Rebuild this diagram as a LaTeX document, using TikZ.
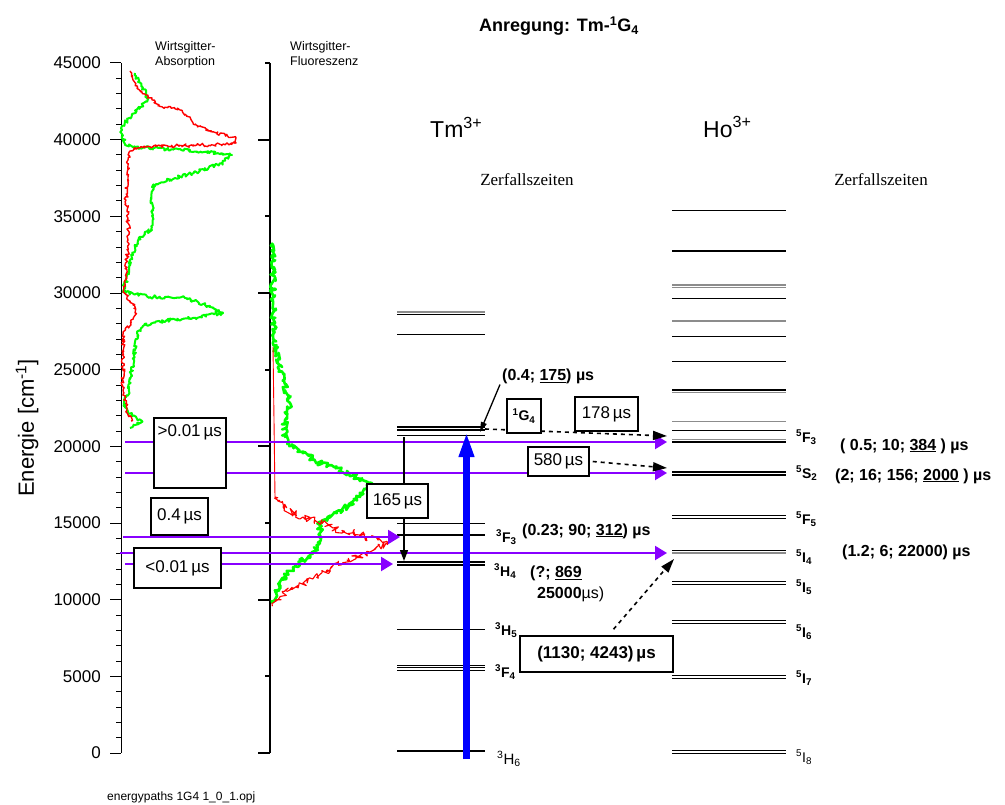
\documentclass[tikz,border=0pt]{standalone}
\usepackage{fontspec}
\setmainfont{Liberation Sans}
\newfontfamily\seriffont{Liberation Serif}
\usetikzlibrary{arrows.meta,decorations.pathmorphing}

\definecolor{excitecol}{RGB}{136,0,255}
\definecolor{pumpcol}{RGB}{0,0,255}
\definecolor{specgreen}{RGB}{0,255,0}
\definecolor{specred}{RGB}{255,0,0}
\newcommand{\term}[3]{\textsuperscript{#1}#2\textsubscript{#3}}
\newcommand{\ulnum}[1]{\underline{#1}}
\newcommand{\fsz}[1]{\fontsize{#1}{#1}\selectfont}

\begin{document}
\begin{tikzpicture}[
        x=1pt, y=-1pt,
        font=\fsz{16},
        axisline/.style={line width=1pt},
        level/.style={line width=1.3pt},
        thinlevel/.style={line width=0.8pt},
        greylevel/.style={line width=1.4pt, black!45},
        excite/.style={excitecol, line width=2.2pt, -{Triangle[length=12pt,width=14pt]}},
        pump/.style={pumpcol, line width=7pt, -{Triangle[length=25pt,width=14pt]}},
        decay/.style={line width=1.3pt, -{Triangle[length=11pt,width=8pt]}},
        transfer/.style={line width=1.6pt, dash pattern=on 4pt off 4pt, -{Triangle[length=14pt,width=9pt]}},
        timebox/.style={draw, line width=1.5pt, fill=white, inner sep=0pt, font=\fsz{17}},
        lifetime/.style={anchor=base west, inner sep=0pt, font=\bfseries\fsz{16}},
        termlabel/.style={anchor=base west, inner sep=0pt, font=\bfseries\fsz{14}},
        spectrum/.style={line join=round, decorate, decoration={random steps, segment length=1.5pt, amplitude=1.8pt}}
    ]
    \useasboundingbox (0,0) rectangle (1005,805);
    \fill[white] (0,0) rectangle (1005,805);
    \pgfmathsetseed{42}

    \node[font=\bfseries\fsz{18}] (title) at (559,26) {Anregung: Tm-\term{1}{G}{4}};
    \node[rotate=90, font=\fsz{22}] (ylabel) at (27,428) {Energie [cm\textsuperscript{-1}]};
    \node[anchor=north west, inner sep=0pt, align=left, font=\fontsize{12.5}{15}\selectfont] (abslabel) at (155,41) {Wirtsgitter-\\Absorption};
    \node[anchor=north west, inner sep=0pt, align=left, font=\fontsize{12.5}{15}\selectfont] (fluolabel) at (290,41) {Wirtsgitter-\\Fluoreszenz};
    \node[anchor=west, inner sep=0pt, font=\fsz{23}] (tmion) at (430,127) {Tm\textsuperscript{3+}};
    \node[anchor=west, inner sep=0pt, font=\fsz{23}] (hoion) at (703,127) {Ho\textsuperscript{3+}};
    \node[font=\seriffont\fsz{17}] (tmzeit) at (527,180) {Zerfallszeiten};
    \node[font=\seriffont\fsz{17}] (hozeit) at (881,180) {Zerfallszeiten};
    \node[anchor=west, inner sep=0pt, font=\fsz{12}] (filename) at (107,797) {energypaths 1G4 1\_0\_1.opj};

    \draw[axisline] (121,63) -- (121,753);
    \foreach \k in {0,...,45}
        \draw[axisline] (116,{753-\k*15.3333}) -- (121,{753-\k*15.3333});
    \foreach \k/\lab in {0/0,5/5000,10/10000,15/15000,20/20000,25/25000,30/30000,35/35000,40/40000,45/45000} {
        \draw[axisline] (110,{753-\k*15.3333}) -- (121,{753-\k*15.3333});
        \node[anchor=east, inner sep=0pt, font=\fsz{17}] (ticklab\k) at (101,{753-\k*15.3333}) {\lab};
    }
    \draw[line width=2pt] (270,63) -- (270,753);
    \foreach \k in {0,10,...,40}
        \draw[line width=2pt] (258,{753-\k*15.3333}) -- (270,{753-\k*15.3333});
    \foreach \k in {5,15,...,45}
        \draw[line width=2pt] (265,{753-\k*15.3333}) -- (270,{753-\k*15.3333});

    \draw[specgreen, line width=2pt, spectrum] (135,73) -- (138,82) -- (143,88) -- (146,94) -- (148,99) -- (122,126) -- (122,136) -- (125,144) -- (135,147) -- (190,150) -- (232,155) -- (222,163) -- (200,171) -- (175,178) -- (156,184) -- (152,187) -- (152,230) -- (145,232) -- (138,240) -- (133,255) -- (129,268) -- (126,282) -- (123,292) -- (150,297) -- (185,298) -- (205,305) -- (223,313) -- (200,317) -- (170,320) -- (143,326) -- (137,333) -- (129,390) -- (124,403) -- (128,413) -- (142,421) -- (130,428);
    \draw[specred, line width=1.4pt, spectrum] (130,71) -- (133,80) -- (137,88) -- (146,95) -- (152,100) -- (158,106) -- (180,110) -- (198,126) -- (213,132) -- (234,137) -- (236,143) -- (213,145) -- (160,146) -- (140,148) -- (130,151) -- (128,160) -- (126,200) -- (129,233) -- (125,283) -- (123,292) -- (127,297) -- (133,305) -- (135,313) -- (131,325) -- (123,332) -- (123,390) -- (127,410) -- (131,421);
    \draw[specgreen, line width=2.6pt, spectrum, decoration={amplitude=3pt}] (273,243) -- (273,300) -- (274,340) -- (278,363) -- (285,387) -- (290,403) -- (285,420) -- (285,437) -- (293,447) -- (320,463) -- (347,473) -- (372,483) -- (360,497) -- (337,513) -- (320,523) -- (320,543) -- (313,553) -- (293,567) -- (280,583) -- (272,600);
    \draw[specred, line width=0.9pt] (273,347) -- (274,420) -- (275,497);
    \draw[specred, line width=1.1pt, spectrum, decoration={amplitude=4pt}] (275,497) -- (283,507) -- (303,517) -- (333,528) -- (360,535) -- (387,543) -- (370,552) -- (347,560) -- (327,570) -- (303,583) -- (280,597) -- (272,603);

    \foreach \y in {334,435,523,629}
        \draw[thinlevel] (397,\y) -- (485,\y);
    \foreach \y in {665,667.5,670}
        \draw[line width=0.6pt] (397,\y) -- (485,\y);
    \draw[greylevel] (397,312) -- (485,312);
    \foreach \y in {314.5,427,430,535,562,565,751}
        \draw[level] (397,\y) -- (485,\y);
    \foreach \y in {285,287.5,321,392.5,421.5,439.5,553}
        \draw[greylevel] (672,\y) -- (786,\y);
    \foreach \y in {210.5,298.5,336.5,361,430.5,550,620.5,623.5,675,678}
        \draw[thinlevel] (672,\y) -- (786,\y);
    \foreach \y in {251,390,442,472,475,515.5,518.5,581.5,584.5,750.5,753.5}
        \draw[level] (672,\y) -- (786,\y);

    \foreach \n/\y/\xs/\xe in {a/442/125/667, b/473/125/667, c/537/123/400, d/553/120/667, e/564/125/393} {
        \coordinate (exs\n) at (\xs,\y);
        \coordinate (exe\n) at (\xe,\y);
        \draw[excite] (exs\n) -- (exe\n);
    }

    \coordinate (tmground) at (466.5,759);
    \coordinate (tmGfour) at (466.5,432);
    \draw[pump] (tmground) -- (tmGfour);
    \coordinate (tmGfoot) at (404,437);
    \coordinate (tmHfour) at (404,561);
    \draw[decay] (tmGfoot) -- (tmHfour);
    \coordinate (tmGend) at (485,429);
    \coordinate (hoFthree) at (667,436);
    \draw[transfer] (tmGend) -- (hoFthree);

    \node[timebox, anchor=north west, minimum width=72pt, text height=13pt, text depth=45pt, inner ysep=6pt] (tgtzero) at (153,417) {>0.01\,µs};
    \node[timebox, minimum width=57pt, minimum height=37pt] (tfour) at (179.5,516.5) {0.4\,µs};
    \node[timebox, minimum width=87pt, minimum height=40pt] (tltzero) at (177.5,568) {<0.01\,µs};
    \node[timebox, minimum width=61pt, minimum height=34pt] (t165) at (397.5,501) {165\,µs};
    \node[timebox, minimum width=34pt, minimum height=34pt, font=\bfseries\fsz{14}] (gfourbox) at (524,416) {\term{1}{G}{4}};
    \node[timebox, minimum width=63pt, minimum height=34pt] (t178) at (606.5,414) {178\,µs};
    \node[timebox, minimum width=61pt, minimum height=29pt] (t580) at (558.5,461.5) {580\,µs};
    \node[timebox, minimum width=153pt, minimum height=36pt, font=\bfseries\fsz{17}] (t1130) at (596.5,654) {(1130; 4243)\,µs};

    \coordinate (hoStwo) at (667,468);
    \draw[transfer] ([xshift=3pt]t580.east) -- (hoStwo);
    \coordinate (hoIfour) at (674,559);
    \draw[transfer] ([xshift=17pt,yshift=6pt]t1130.north) -- (hoIfour);

    \node[termlabel] (tmFthree) at (496,542) {\term{3}{F}{3}};
    \node[termlabel] (tmHfourlab) at (494,576) {\term{3}{H}{4}};
    \node[termlabel] (tmHfive) at (495,635) {\term{3}{H}{5}};
    \node[termlabel] (tmFfour) at (495,677) {\term{3}{F}{4}};
    \node[termlabel, font=\fsz{15}] (tmHsix) at (497,764) {\term{3}{H}{6}};
    \node[termlabel] (hoFthreelab) at (796,442) {\term{5}{F}{3}};
    \node[termlabel] (hoStwolab) at (796,478) {\term{5}{S}{2}};
    \node[termlabel] (hoFfive) at (796,524) {\term{5}{F}{5}};
    \node[termlabel] (hoIfourlab) at (796,562) {\term{5}{I}{4}};
    \node[termlabel] (hoIfive) at (796,592) {\term{5}{I}{5}};
    \node[termlabel] (hoIsix) at (796,637) {\term{5}{I}{6}};
    \node[termlabel] (hoIseven) at (796,683) {\term{5}{I}{7}};
    \node[termlabel, font=\fsz{14}] (hoIeight) at (796,762) {\term{5}{I}{8}};

    \node[lifetime] (tmGtime) at (502,381) {(0.4; \ulnum{175}) µs};
    \node[lifetime] (tmFtime) at (522,535) {(0.23; 90; \ulnum{312}) µs};
    \node[lifetime, anchor=north west, align=left, font=\bfseries\fontsize{16}{21}\selectfont] (tmHtime) at (530,566) {(?; \ulnum{869}\\\hspace*{7pt}25000\mdseries µs)};
    \node[lifetime] (hoFtime) at (840,450) {( 0.5; 10; \ulnum{384} ) µs};
    \node[lifetime] (hoStime) at (835,480) {(2; 16; 156; \ulnum{2000} ) µs};
    \node[lifetime] (hoItime) at (842,556) {(1.2; 6; 22000) µs};

    \coordinate (tmGpoint) at (480,432);
    \draw[line width=1.3pt, -{Triangle[length=10pt,width=6pt]}] ([xshift=-2pt]tmGtime.south west) -- (tmGpoint);
\end{tikzpicture}
\end{document}
